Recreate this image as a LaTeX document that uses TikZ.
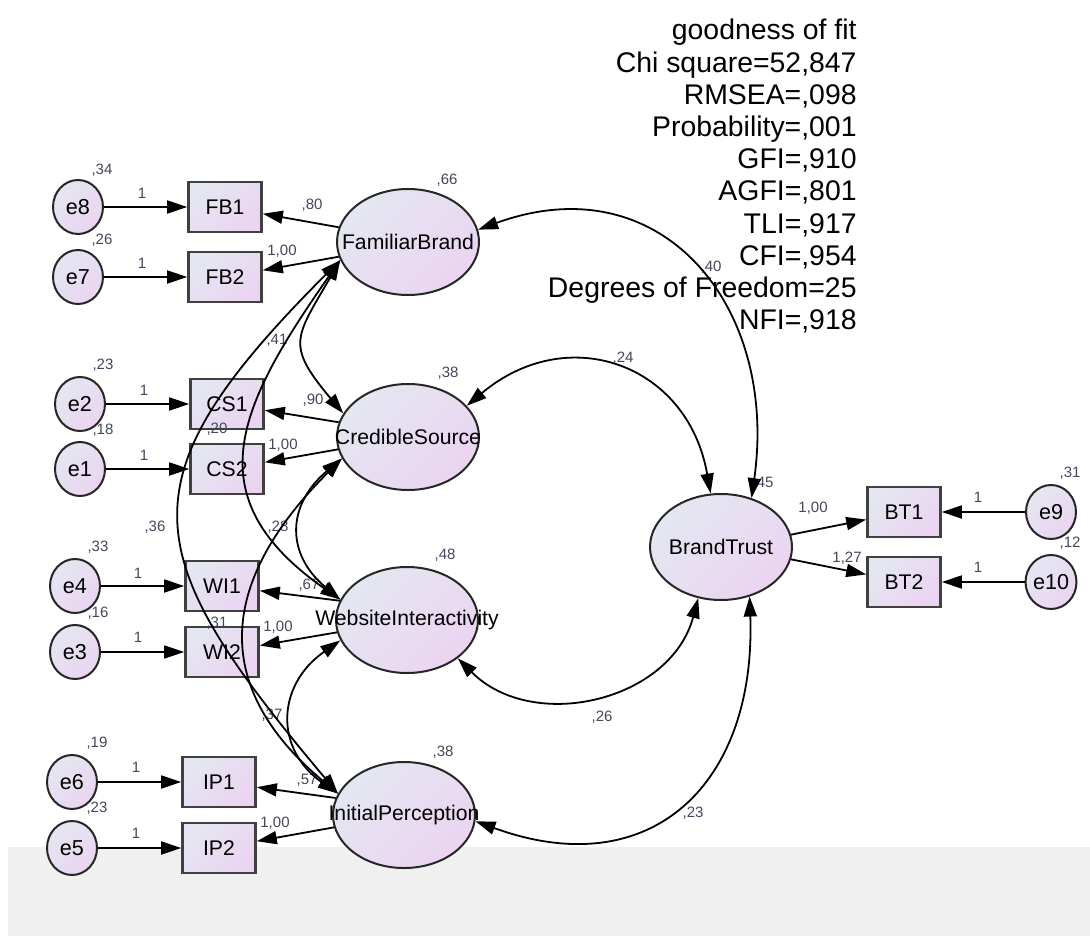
\documentclass[tikz,border=0pt]{standalone}
\usepackage{fontspec}
\setmainfont{Liberation Sans}
\usetikzlibrary{shapes.geometric, arrows.meta}
\definecolor{fillA}{HTML}{E4E7F1}
\definecolor{fillB}{HTML}{EBD4F1}
\definecolor{numgray}{HTML}{44465A}
\definecolor{band}{HTML}{F0F0F0}
\tikzstyle{latent} = [ellipse, draw=black!85, line width=1pt, minimum width=71pt, minimum height=53pt, inner sep=0pt, top color=fillA, bottom color=fillB, shading angle=45, font=\fontsize{10.6}{12}\selectfont]
\tikzstyle{observed} = [rectangle, draw=black!75, line width=1.3pt, minimum width=36.5pt, minimum height=25pt, inner sep=0pt, top color=fillA, bottom color=fillB, shading angle=45, font=\fontsize{10.6}{12}\selectfont]
\tikzstyle{errvar} = [ellipse, draw=black!85, line width=1pt, minimum width=25pt, minimum height=27pt, inner sep=0pt, top color=fillA, bottom color=fillB, shading angle=45, font=\fontsize{10.8}{12}\selectfont]
\tikzstyle{est} = [inner sep=0pt, text=numgray, font=\fontsize{7.5}{9}\selectfont]
\tikzstyle{arrow} = [line width=0.9pt,->,>={Triangle[length=10pt,width=6.5pt]}]
\tikzstyle{covar} = [line width=0.9pt,<->,>={Triangle[length=10pt,width=6.5pt]}]

\begin{document}
\begin{tikzpicture}[x=0.5pt, y=-0.5pt, node distance=34pt]
\useasboundingbox (0,0) rectangle (1090,936);
\fill[band] (8,847) rectangle (1090,936);

% latent variables
\node (fb)[latent] at (408,242) {\makebox[0pt]{FamiliarBrand}};
\node (cs)[latent] at (408,437) {\makebox[0pt]{CredibleSource}};
\node (wi)[latent] at (407,620) {\makebox[0pt]{WebsiteInteractivity}};
\node (ip)[latent] at (404,815) {\makebox[0pt]{InitialPerception}};
\node (bt)[latent] at (721,547) {\makebox[0pt]{BrandTrust}};

% indicators
\node (fb1)[observed] at (225,207) {FB1};
\node (fb2)[observed, below of=fb1, yshift=-1pt] {FB2};
\node (cs1)[observed] at (227,404) {CS1};
\node (cs2)[observed, below of=cs1, yshift=1.5pt] {CS2};
\node (wi1)[observed] at (222,586) {WI1};
\node (wi2)[observed, below of=wi1, yshift=1pt] {WI2};
\node (ip1)[observed] at (219,782) {IP1};
\node (ip2)[observed, below of=ip1, yshift=1pt] {IP2};
\node (bt1)[observed] at (904,512) {BT1};
\node (bt2)[observed, below of=bt1, yshift=-1pt] {BT2};

% error terms
\node (e8)[errvar, left of=fb1, xshift=-39.5pt] {e8};
\node (e7)[errvar, left of=fb2, xshift=-39.5pt] {e7};
\node (e2)[errvar, left of=cs1, xshift=-39.5pt] {e2};
\node (e1)[errvar, left of=cs2, xshift=-39.5pt] {e1};
\node (e4)[errvar, left of=wi1, xshift=-39.5pt] {e4};
\node (e3)[errvar, left of=wi2, xshift=-39.5pt] {e3};
\node (e6)[errvar, left of=ip1, xshift=-39.5pt] {e6};
\node (e5)[errvar, left of=ip2, xshift=-39.5pt] {e5};
\node (e9)[errvar, right of=bt1, xshift=39.5pt] {e9};
\node (e10)[errvar, right of=bt2, xshift=39.5pt] {e10};

% fit indices
\node (fit)[anchor=north east, align=right, inner sep=0pt, font=\fontsize{14.2}{16.1}\selectfont] at (857,19) {goodness of fit\\Chi square=52,847\\RMSEA=,098\\Probability=,001\\GFI=,910\\AGFI=,801\\TLI=,917\\CFI=,954\\Degrees of Freedom=25\\NFI=,918};

% estimates
\node (ve8)[est] at (102,170) {,34};
\node (we8)[est] at (142,193) {1};
\node (lfb1)[est] at (312,205) {,80};
\node (vfb)[est] at (447,180) {,66};
\node (ve7)[est] at (102,240) {,26};
\node (we7)[est] at (142,263) {1};
\node (lfb2)[est] at (282,251) {1,00};
\node (cfbcs)[est] at (277,340) {,41};
\node (ve2)[est] at (103,365) {,23};
\node (we2)[est] at (144,390) {1};
\node (lcs1)[est] at (313,400) {,90};
\node (vcs)[est] at (448,373) {,38};
\node (ve1)[est] at (103,430) {,18};
\node (we1)[est] at (144,455) {1};
\node (ccsip)[est] at (217,429) {,20};
\node (lcs2)[est] at (283,445) {1,00};
\node (cfbip)[est] at (155,527) {,36};
\node (cfbwi)[est] at (278,527) {,28};
\node (ve4)[est] at (98,547) {,33};
\node (we4)[est] at (138,573) {1};
\node (lwi1)[est] at (309,585) {,67};
\node (vwi)[est] at (445,555) {,48};
\node (ve3)[est] at (98,613) {,16};
\node (we3)[est] at (138,637) {1};
\node (ccswi)[est] at (217,623) {,31};
\node (lwi2)[est] at (278,627) {1,00};
\node (cwiip)[est] at (272,715) {,37};
\node (ve6)[est] at (97,743) {,19};
\node (we6)[est] at (136,767) {1};
\node (lip1)[est] at (307,780) {,57};
\node (vip)[est] at (443,752) {,38};
\node (ve5)[est] at (97,808) {,23};
\node (we5)[est] at (136,833) {1};
\node (lip2)[est] at (275,823) {1,00};
\node (vbt)[est] at (763,483) {,45};
\node (lbt1)[est] at (813,508) {1,00};
\node (lbt2)[est] at (847,558) {1,27};
\node (ve9)[est] at (1070,473) {,31};
\node (ve10)[est] at (1070,543) {,12};
\node (we9)[est] at (978,497) {1};
\node (we10)[est] at (978,567) {1};
\node (cfbbt)[est] at (711,267) {,40};
\node (ccsbt)[est] at (623,358) {,24};
\node (cwibt)[est] at (602,717) {,26};
\node (cipbt)[est] at (693,813) {,23};

% error paths
\draw [arrow] (e8) -- (fb1);
\draw [arrow] (e7) -- (fb2);
\draw [arrow] (e2) -- (cs1);
\draw [arrow] (e1) -- (cs2);
\draw [arrow] (e4) -- (wi1);
\draw [arrow] (e3) -- (wi2);
\draw [arrow] (e6) -- (ip1);
\draw [arrow] (e5) -- (ip2);
\draw [arrow] (e9) -- (bt1);
\draw [arrow] (e10) -- (bt2);

% loadings
\draw [arrow] (fb.168) -- (fb1);
\draw [arrow] (fb.192) -- (fb2);
\draw [arrow] (cs.168) -- (cs1);
\draw [arrow] (cs.190) -- (cs2);
\draw [arrow] (wi.164) -- (wi1);
\draw [arrow] (wi.190) -- (wi2);
\draw [arrow] (ip.166) -- (ip1);
\draw [arrow] (ip.190) -- (ip2);
\draw [arrow] (bt.10) -- (bt1);
\draw [arrow] (bt.350) -- (bt2);

% covariances
\draw [covar] (fb.10) to[out=20, in=82, looseness=1.3] (bt.58);
\draw [covar] (cs.28) to[out=40, in=100, looseness=1.3] (bt.101);
\draw [covar] (wi.323) to[out=-45, in=-105, looseness=1.1] (bt.246);
\draw [covar] (ip.355) to[out=-20, in=-88, looseness=1.35] (bt.300);
\draw [covar] (fb.195) to[out=240, in=130, looseness=1.5] (cs.160);
\draw [covar] (fb.195) to[out=235, in=145, looseness=1.35] (wi.163);
\draw [covar] (fb.195) to[out=225, in=130, looseness=1.5] (ip.162);
\draw [covar] (cs.198) to[out=220, in=140, looseness=1.3] (wi.163);
\draw [covar] (cs.198) to[out=225, in=140, looseness=1.3] (ip.162);
\draw [covar] (wi.197) to[out=215, in=145, looseness=1.3] (ip.162);
\end{tikzpicture}
\end{document}
